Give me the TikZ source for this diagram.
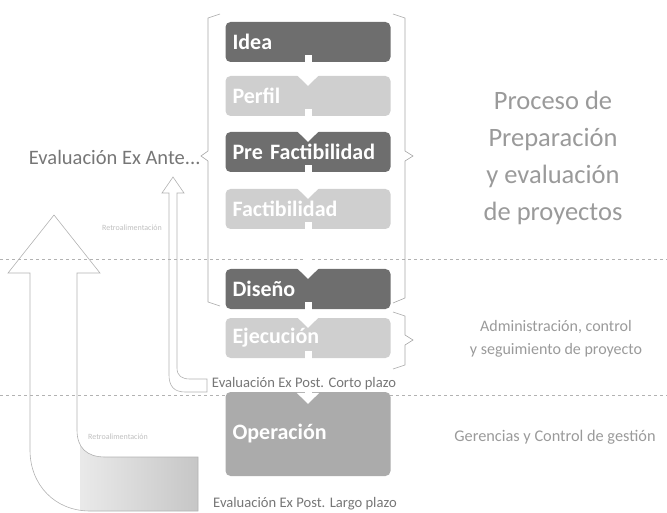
\documentclass[tikz,border=0pt]{standalone}
\usepackage{fontspec}
\setmainfont{Carlito}
\usepackage{tikz}
\usetikzlibrary{arrows.meta}
\definecolor{darkbox}{HTML}{6E6E6E}
\definecolor{lightbox}{HTML}{CFCFCF}
\definecolor{midbox}{HTML}{ABABAB}
\definecolor{leftgray}{HTML}{767676}
\definecolor{rightgray}{HTML}{9A9A9A}

\begin{document}
\begin{tikzpicture}[x=1pt,y=-1pt,
  stage/.style={rounded corners=5pt,minimum width=165pt,minimum height=40pt,inner xsep=7pt,text width=151pt,align=left,text=white,font=\fontsize{22}{24}\selectfont\bfseries},
  dark/.style={stage,fill=darkbox},
  light/.style={stage,fill=lightbox},
  flow/.style={white,line width=7pt,-{Triangle[width=22pt,length=11pt]}},
  bracket/.style={draw=gray!70,line width=0.6pt},
  guide/.style={draw=gray!60,dashed,line width=0.6pt},
  feedback/.style={draw=gray!60,line width=0.6pt},
  phase/.style={text=rightgray,align=center},
  faint/.style={text=gray!50,font=\fontsize{8}{9}\selectfont}]
\useasboundingbox (0,0) rectangle (667,513);

\draw[guide] (0,259) -- (667,259);
\draw[guide] (0,395) -- (667,395);

\node[dark]  (idea)      at (308,42)  {Idea};
\node[light] (perfil)    at (308,96)  {Perfil};
\node[dark]  (prefact)   at (308,152) {Pre Factibilidad};
\node[light] (fact)      at (308,209) {Factibilidad};
\node[dark]  (diseno)    at (308,289) {Diseño};
\node[light] (ejecucion) at (308,338) {Ejecución};
\node[stage,fill=midbox,minimum height=84pt] (operacion) at (308,434) {Operación};

\path[flow]
  ([yshift=7pt]idea.south) edge ([yshift=-10pt]perfil.north)
  ([yshift=7pt]perfil.south) edge ([yshift=-10pt]prefact.north)
  ([yshift=7pt]prefact.south) edge ([yshift=-10pt]fact.north)
  ([yshift=7pt]fact.south) edge ([yshift=-10pt]diseno.north)
  ([yshift=7pt]diseno.south) edge ([yshift=-10pt]ejecucion.north)
  ([yshift=7pt]ejecucion.south) edge ([yshift=-12pt]operacion.north);

\draw[bracket] (220,14) -- (208,18) -- (208,151) -- (201,156) -- (208,161) -- (208,302) -- (220,306);
\draw[bracket] (393,14) -- (405,18) -- (405,151) -- (413,156) -- (405,161) -- (405,298) -- (393,303);
\draw[bracket] (393,312) -- (405,316) -- (405,335) -- (413,340) -- (405,345) -- (405,365) -- (393,369);

\node[anchor=east,text=leftgray,font=\fontsize{20.5}{22}\selectfont] (exante) at (204,157) {Evaluación Ex Ante...};
\node[text=leftgray,font=\fontsize{14.6}{16}\selectfont] (corto) at (304,384) {Evaluación Ex Post. Corto plazo};
\node[text=leftgray,font=\fontsize{14.6}{16}\selectfont] (largo) at (305,504) {Evaluación Ex Post. Largo plazo};

\node[phase,font=\fontsize{26.5}{37}\selectfont] (proceso) at (553,158) {Proceso de\\Preparación\\y evaluación\\de proyectos};
\node[phase,font=\fontsize{16}{23}\selectfont] (admin) at (556,339) {Administración, control\\y seguimiento de proyecto};
\node[phase,font=\fontsize{16.3}{18}\selectfont] (gerencia) at (555,437) {Gerencias y Control de gestión};

\draw[feedback] (173,177) -- (184,193) -- (177,193) -- (177,368) .. controls (177,376) and (182,379) .. (190,379) -- (207,379) -- (207,392) -- (185,392) .. controls (174,392) and (169,386) .. (169,375) -- (169,193) -- (162,193) -- cycle;
\draw[feedback,path picture={\shade[left color=white,right color=gray!45] (80,440) rectangle (200,515);}]
  (54,215) -- (100,273) -- (77,273) -- (77,430) .. controls (77,448) and (87,457) .. (105,457) -- (198,457) -- (198,511) -- (90,511) .. controls (55,511) and (30,485) .. (30,450) -- (30,273) -- (8,273) -- cycle;

\node[faint] (retro1) at (132,228) {Retroalimentación};
\node[faint] (retro2) at (118,437) {Retroalimentación};
\end{tikzpicture}
\end{document}
